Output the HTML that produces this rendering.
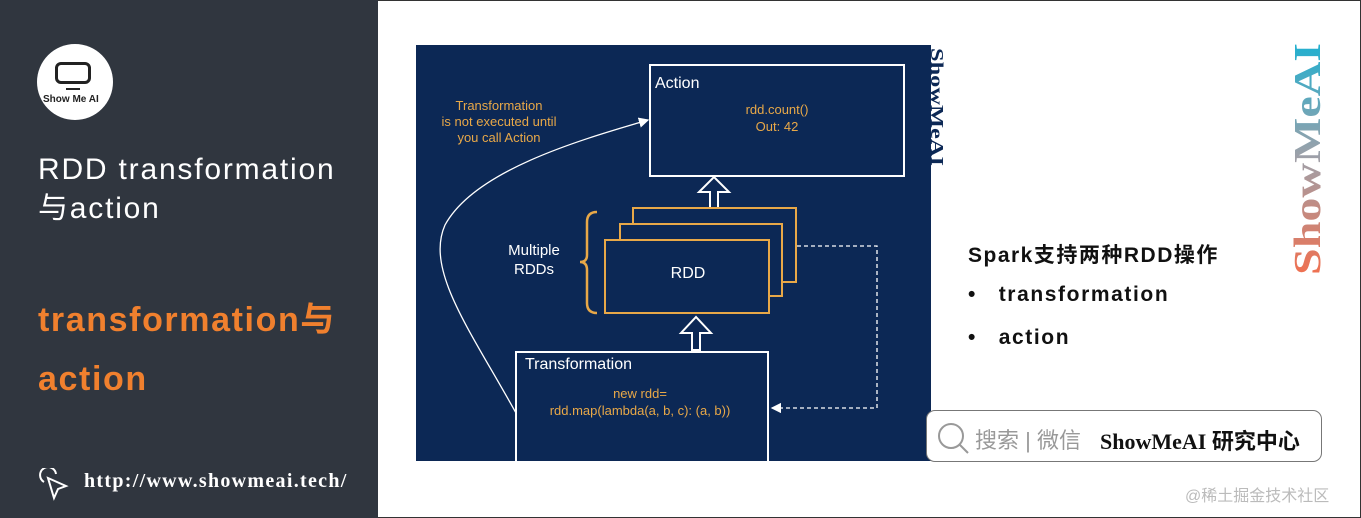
<!DOCTYPE html>
<html><head><meta charset="utf-8"><style>
body{margin:0;width:1361px;height:518px;position:relative;overflow:hidden;background:#fff;font-family:"Liberation Sans","Noto Sans CJK SC",sans-serif}
.a{position:absolute;white-space:nowrap}
</style></head><body>
<div class="a" style="left:0;top:0;width:1359px;height:516px;border:1px solid #333"></div>
<div class="a" style="left:0;top:0;width:378px;height:518px;background:#30363f"></div>
<div class="a" style="left:37px;top:44px;width:76px;height:76px;border-radius:50%;background:#fff"></div>
<div class="a" style="left:55px;top:62px;width:36px;height:22px;border:3px solid #222;border-radius:6px;box-sizing:border-box"></div>
<div class="a" style="left:66px;top:88px;width:14px;height:2px;background:#222"></div>
<div class="a" style="left:43px;top:94px;font-size:10px;font-weight:bold;color:#222">Show Me AI</div>
<div class="a" style="left:38px;top:150px;font-size:30px;color:#fff;line-height:39px;letter-spacing:1.8px">RDD transformation<br>与action</div>
<div class="a" style="left:38px;top:292px;font-size:34px;font-weight:bold;color:#f0802e;letter-spacing:1.6px">transformation与</div>
<div class="a" style="left:38px;top:360px;font-size:34px;font-weight:bold;color:#f0802e;letter-spacing:1.6px">action</div>
<svg class="a" style="left:36px;top:468px" width="34" height="34"><path d="M8 14 A8 8 0 1 1 20 6" fill="none" stroke="#fff" stroke-width="2"/><path d="M12 10 L30 18 L22 21 L18 30 Z" fill="none" stroke="#fff" stroke-width="2"/></svg>
<div class="a" style="left:84px;top:470px;font-size:20px;font-weight:bold;color:#fff;font-family:'Liberation Serif',serif;letter-spacing:1.3px">http://www.showmeai.tech/</div>

<svg class="a" style="left:0;top:0" width="1361" height="518">
<defs><marker id="m" markerWidth="8" markerHeight="8" refX="7" refY="4" orient="auto"><path d="M0 0 L8 4 L0 8 Z" fill="#fff"/></marker>
<linearGradient id="g" x1="0" y1="0" x2="1" y2="0"><stop offset="0" stop-color="#f07050"/><stop offset="0.5" stop-color="#a0a0a8"/><stop offset="1" stop-color="#20b0d0"/></linearGradient></defs>
<rect x="416" y="45" width="515" height="416" fill="#0c2855"/>
<rect x="650" y="65" width="254" height="111" fill="none" stroke="#fff" stroke-width="2"/>
<path d="M710 208 V192 H699 L714 177 L729 192 H718 V208 Z" fill="none" stroke="#fff" stroke-width="2"/>
<g fill="#0c2855" stroke="#e8a848" stroke-width="2">
<rect x="633" y="208" width="163" height="74"/><rect x="620" y="224" width="162" height="72"/><rect x="605" y="240" width="164" height="73"/></g>
<path d="M597 212 Q587 212 587 222 V255 Q587 262 580 262 Q587 262 587 270 V303 Q587 313 597 313" fill="none" stroke="#e8a848" stroke-width="2.5"/>
<path d="M692 350 V333 H681 L696 317 L711 333 H700 V350 Z" fill="none" stroke="#fff" stroke-width="2"/>
<rect x="516" y="352" width="252" height="110" fill="none" stroke="#fff" stroke-width="2"/>
<path d="M797 246 H877 V408 H772" fill="none" stroke="#fff" stroke-width="1.3" stroke-dasharray="4,3" marker-end="url(#m)"/>
<path d="M516 413 C470 330 425 270 445 225 C475 170 580 140 648 120" fill="none" stroke="#fff" stroke-width="1.3" marker-end="url(#m)"/>
<text x="655" y="88" font-size="16" fill="#fff">Action</text>
<text x="777" y="114" font-size="13" fill="#e8a848" text-anchor="middle">rdd.count()</text>
<text x="777" y="131" font-size="13" fill="#e8a848" text-anchor="middle">Out: 42</text>
<text x="499" y="110" font-size="13" fill="#e8a848" text-anchor="middle">Transformation</text>
<text x="499" y="126" font-size="13" fill="#e8a848" text-anchor="middle">is not executed until</text>
<text x="499" y="142" font-size="13" fill="#e8a848" text-anchor="middle">you call Action</text>
<text x="534" y="255" font-size="15" fill="#fff" text-anchor="middle">Multiple</text>
<text x="534" y="274" font-size="15" fill="#fff" text-anchor="middle">RDDs</text>
<text x="688" y="278" font-size="16" fill="#fff" text-anchor="middle">RDD</text>
<text x="525" y="369" font-size="16" fill="#fff">Transformation</text>
<text x="640" y="398" font-size="13" fill="#e8a848" text-anchor="middle">new rdd=</text>
<text x="640" y="415" font-size="13" fill="#e8a848" text-anchor="middle">rdd.map(lambda(a, b, c): (a, b))</text>
<text transform="translate(931,48) rotate(90)" font-size="18" font-weight="bold" fill="#0c2855" font-family="Liberation Serif,serif" textLength="118" lengthAdjust="spacingAndGlyphs">ShowMeAI</text>
<text transform="translate(1320,275) rotate(-90)" font-size="38" font-weight="bold" fill="url(#g)" font-family="Liberation Serif,serif" textLength="232" lengthAdjust="spacingAndGlyphs">ShowMeAI</text>
</svg>
<div class="a" style="left:968px;top:239px;font-size:21px;font-weight:bold;color:#111;letter-spacing:1.5px">Spark支持两种RDD操作</div>
<div class="a" style="left:968px;top:283px;font-size:21px;font-weight:bold;color:#111">•&nbsp;&nbsp;&nbsp;&nbsp;<span style="letter-spacing:1.6px">transformation</span></div>
<div class="a" style="left:968px;top:326px;font-size:21px;font-weight:bold;color:#111">•&nbsp;&nbsp;&nbsp;&nbsp;<span style="letter-spacing:1.6px">action</span></div>
<div class="a" style="left:926px;top:410px;width:396px;height:52px;border:1px solid #777;border-radius:9px;background:#fff;box-sizing:border-box"></div>
<svg class="a" style="left:936px;top:421px" width="36" height="36"><circle cx="15" cy="15" r="12" fill="none" stroke="#999" stroke-width="2"/><path d="M24 24 L32 32" stroke="#999" stroke-width="2"/></svg>
<div class="a" style="left:975px;top:423px;font-size:22px;color:#999">搜索 | 微信</div>
<div class="a" style="left:1100px;top:424px;font-size:22px;font-weight:bold;color:#111;font-family:'Liberation Serif','Noto Sans CJK SC',serif">ShowMeAI 研究中心</div>
<div class="a" style="left:1185px;top:482px;font-size:16px;color:#bbb">@稀土掘金技术社区</div>
</body></html>
